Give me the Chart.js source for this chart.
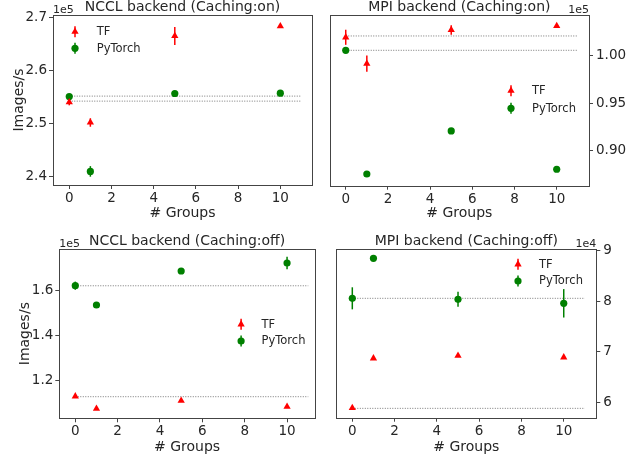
<!DOCTYPE html>
<html>
<head>
<meta charset="utf-8">
<script src="https://cdn.jsdelivr.net/npm/chart.js@4.4.1/dist/chart.umd.min.js"></script>
<style>
  body { margin: 0; background: #fff; width: 638px; height: 459px; overflow: hidden; }
  .panel { position: absolute; }
</style>
</head>
<body>
<div class="panel" style="left:0;top:0;width:319px;height:225px"><canvas id="ncclOn"></canvas></div>
<div class="panel" style="left:319px;top:0;width:319px;height:225px"><canvas id="mpiOn"></canvas></div>
<div class="panel" style="left:0;top:225px;width:319px;height:234px"><canvas id="ncclOff"></canvas></div>
<div class="panel" style="left:319px;top:225px;width:319px;height:234px"><canvas id="mpiOff"></canvas></div>
<script>
// x categories (# Groups) and x tick labels
const groups = [0, 1, 5, 10];
const xTicks = [0, 2, 4, 6, 8, 10];
const hlineSpan = [0, 11];

// NCCL backend (Caching:on)
const ncclOnTF = [253960, 250110, 266470, 268300];
const ncclOnTFErr = [600, 800, 1700, 300];
const ncclOnPT = [255020, 240870, 255590, 255660];
const ncclOnPTErr = [300, 1000, 300, 300];
const ncclOnBase = [254150, 255100];
const ncclOnYTicks = [240000, 250000, 260000, 270000];
const ncclOnYLabels = ['2.4', '2.5', '2.6', '2.7'];

// MPI backend (Caching:on)
const mpiOnTF = [101980, 99190, 102750, 103180];
const mpiOnTFErr = [800, 860, 500, 150];
const mpiOnPT = [100600, 87500, 92060, 88000];
const mpiOnPTErr = [200, 200, 150, 150];
const mpiOnBase = [102120, 100600];
const mpiOnYTicks = [90000, 95000, 100000];
const mpiOnYLabels = ['0.90', '0.95', '1.00'];

// NCCL backend (Caching:off)
const ncclOffTF = [113100, 107600, 111150, 108500];
const ncclOffTFErr = [400, 300, 300, 300];
const ncclOffPT = [162040, 153500, 168540, 172080];
const ncclOffPTErr = [1800, 500, 500, 2800];
const ncclOffBase = [112920, 162000];
const ncclOffYTicks = [120000, 140000, 160000];
const ncclOffYLabels = ['1.2', '1.4', '1.6'];

// MPI backend (Caching:off)
const mpiOffTF = [58940, 68720, 69230, 68920];
const mpiOffTFErr = [100, 150, 150, 150];
const mpiOffPT = [80530, 88400, 80330, 79550];
const mpiOffPTErr = [2170, 150, 1480, 2800];
const mpiOffBase = [58870, 80530];
const mpiOffYTicks = [60000, 70000, 80000, 90000];
const mpiOffYLabels = ['6', '7', '8', '9'];

const RED = '#ff0000';
const GREEN = '#008000';
const INK = '#262626';
const SPINE = '#444444';
const FONT = "'DejaVu Sans', sans-serif";

function pts(ys) {
    return groups.map((g, i) => ({ x: g, y: ys[i] }));
}

// matplotlib style decorations: frame, title, offset text, error bars, legend
const mplDecor = {
    id: 'mplDecor',
    afterDatasetsDraw(chart, args, opts) {
        const { ctx, scales } = chart;
        const xs = scales.x, ys = scales.y;
        ctx.save();
        // error bars
        opts.errors.forEach(e => {
            ctx.strokeStyle = e.color;
            ctx.lineWidth = 1.5;
            groups.forEach((g, i) => {
                const px = xs.getPixelForValue(g);
                ctx.beginPath();
                ctx.moveTo(px, ys.getPixelForValue(e.vals[i] - e.err[i]));
                ctx.lineTo(px, ys.getPixelForValue(e.vals[i] + e.err[i]));
                ctx.stroke();
            });
        });
        ctx.restore();
    },
    afterDraw(chart, args, opts) {
        const { ctx, chartArea: a } = chart;
        ctx.save();
        // frame
        ctx.strokeStyle = SPINE;
        ctx.lineWidth = 1;
        ctx.strokeRect(Math.round(a.left) + 0.5, Math.round(a.top) + 0.5,
            Math.round(a.right - a.left), Math.round(a.bottom - a.top));
        // title
        ctx.fillStyle = INK;
        ctx.font = '14px ' + FONT;
        ctx.textAlign = 'center';
        ctx.textBaseline = 'alphabetic';
        ctx.fillText(opts.title, (a.left + a.right) / 2, a.top - 4);
        // offset text
        ctx.font = '11px ' + FONT;
        ctx.textAlign = opts.offsetSide;
        ctx.fillText(opts.offsetText, opts.offsetSide === 'left' ? a.left : a.right, a.top - 2.5);
        // legend
        const lg = opts.legend;
        const base = lg.side === 'left' ? a.left : a.right;
        const items = [
            { label: 'TF', color: RED, style: 'triangle', y: a.top + lg.y1 },
            { label: 'PyTorch', color: GREEN, style: 'circle', y: a.top + lg.y2 }
        ];
        items.forEach(it => {
            const mx = base + lg.mx;
            ctx.strokeStyle = it.color;
            ctx.lineWidth = 1.5;
            ctx.beginPath();
            ctx.moveTo(mx, it.y - 5.5);
            ctx.lineTo(mx, it.y + 5.5);
            ctx.stroke();
            ctx.fillStyle = it.color;
            Chart.helpers.drawPoint(ctx, { pointStyle: it.style, radius: it.style === 'triangle' ? 4.2 : 3.6, rotation: 0, borderWidth: 0 }, mx, it.y);
            ctx.fillStyle = INK;
            ctx.font = '11.5px ' + FONT;
            ctx.textAlign = 'left';
            ctx.textBaseline = 'middle';
            ctx.fillText(it.label, base + lg.tx, it.y + 0.5);
        });
        ctx.restore();
    }
};

function makePanel(id, p) {
    const ctx = document.getElementById(id);
    const dotted = (y) => ({
        type: 'line',
        data: hlineSpan.map(x => ({ x: x, y: y })),
        borderColor: '#555555',
        borderWidth: 0.8,
        borderDash: [1, 1.5],
        pointRadius: 0,
        fill: false,
        order: 3
    });
    return new Chart(ctx, {
        type: 'scatter',
        data: {
            datasets: [
                dotted(p.base[0]),
                dotted(p.base[1]),
                {
                    label: 'TF',
                    data: pts(p.tf),
                    pointStyle: 'triangle',
                    pointRadius: 4.2,
                    backgroundColor: RED,
                    borderColor: RED,
                    borderWidth: 0,
                    order: 1
                },
                {
                    label: 'PyTorch',
                    data: pts(p.pt),
                    pointStyle: 'circle',
                    pointRadius: 3.6,
                    backgroundColor: GREEN,
                    borderColor: GREEN,
                    borderWidth: 0,
                    order: 1
                }
            ]
        },
        options: {
            responsive: true,
            maintainAspectRatio: false,
            animation: false,
            events: [],
            layout: { padding: p.padding },
            scales: {
                x: {
                    type: 'linear',
                    min: p.xMin,
                    max: p.xMax,
                    afterBuildTicks: s => { s.ticks = xTicks.map(v => ({ value: v })); },
                    afterFit: s => { s.height = p.xHeight; },
                    border: { display: false },
                    grid: { drawOnChartArea: false, drawTicks: true, tickLength: 4, color: SPINE },
                    ticks: {
                        color: INK,
                        font: { family: FONT, size: 13.5 },
                        padding: 1.5,
                        maxRotation: 0,
                        callback: v => String(v)
                    },
                    title: {
                        display: true,
                        text: '# Groups',
                        color: INK,
                        font: { family: FONT, size: 14 },
                        padding: { top: 0, bottom: 3.6 }
                    }
                },
                y: {
                    type: 'linear',
                    position: p.yPos,
                    min: p.yMin,
                    max: p.yMax,
                    afterBuildTicks: s => { s.ticks = p.yTicks.map(v => ({ value: v })); },
                    afterFit: s => { s.width = p.yWidth; },
                    border: { display: false },
                    grid: { drawOnChartArea: false, drawTicks: true, tickLength: 4, color: SPINE },
                    ticks: {
                        color: INK,
                        font: { family: FONT, size: 13.5 },
                        padding: p.yPos === 'left' ? 2 : 3,
                        callback: (v) => p.yLabels[p.yTicks.indexOf(v)]
                    },
                    title: {
                        display: p.yPos === 'left',
                        text: 'Images/s',
                        color: INK,
                        font: { family: FONT, size: 14 },
                        padding: { top: p.yTitlePad || 0, bottom: 0 }
                    }
                }
            },
            plugins: {
                legend: { display: false },
                tooltip: { enabled: false },
                mplDecor: {
                    title: p.title,
                    offsetText: p.offsetText,
                    offsetSide: p.yPos,
                    legend: p.legend,
                    errors: [
                        { vals: p.tf, err: p.tfErr, color: RED },
                        { vals: p.pt, err: p.ptErr, color: GREEN }
                    ]
                }
            }
        },
        plugins: [mplDecor]
    });
}

makePanel('ncclOn', {
    title: 'NCCL backend (Caching:on)', offsetText: '1e5',
    tf: ncclOnTF, tfErr: ncclOnTFErr, pt: ncclOnPT, ptErr: ncclOnPTErr, base: ncclOnBase,
    yTicks: ncclOnYTicks, yLabels: ncclOnYLabels, yPos: 'left',
    yMin: 238300, yMax: 270430, xMin: -0.77, xMax: 11.5,
    padding: { left: 0, top: 15, right: 7, bottom: 0 }, yWidth: 53, xHeight: 40, yTitlePad: 10.6,
    legend: { side: 'left', mx: 22, tx: 43.7, y1: 16.7, y2: 33.3 }
});

makePanel('mpiOn', {
    title: 'MPI backend (Caching:on)', offsetText: '1e5',
    tf: mpiOnTF, tfErr: mpiOnTFErr, pt: mpiOnPT, ptErr: mpiOnPTErr, base: mpiOnBase,
    yTicks: mpiOnYTicks, yLabels: mpiOnYLabels, yPos: 'right',
    yMin: 86260, yMax: 104340, xMin: -0.76, xMax: 11.53,
    padding: { left: 10.7, top: 15, right: 0, bottom: 0 }, yWidth: 49, xHeight: 39.3,
    legend: { side: 'right', mx: -78, tx: -57, y1: 75.7, y2: 93.3 }
});

makePanel('ncclOff', {
    title: 'NCCL backend (Caching:off)', offsetText: '1e5',
    tf: ncclOffTF, tfErr: ncclOffTFErr, pt: ncclOffPT, ptErr: ncclOffPTErr, base: ncclOffBase,
    yTicks: ncclOffYTicks, yLabels: ncclOffYLabels, yPos: 'left',
    yMin: 103360, yMax: 178270, xMin: -0.755, xMax: 11.31,
    padding: { left: 0, top: 24, right: 4, bottom: 0 }, yWidth: 59.3, xHeight: 40.7, yTitlePad: 16.6,
    legend: { side: 'right', mx: -73.7, tx: -53.3, y1: 75.3, y2: 92 }
});

makePanel('mpiOff', {
    title: 'MPI backend (Caching:off)', offsetText: '1e4',
    tf: mpiOffTF, tfErr: mpiOffTFErr, pt: mpiOffPT, ptErr: mpiOffPTErr, base: mpiOffBase,
    yTicks: mpiOffYTicks, yLabels: mpiOffYLabels, yPos: 'right',
    yMin: 57030, yMax: 90240, xMin: -0.757, xMax: 11.54,
    padding: { left: 17.3, top: 24, right: 0, bottom: 0 }, yWidth: 41.7, xHeight: 41.3,
    legend: { side: 'right', mx: -78.3, tx: -57.3, y1: 15.3, y2: 32 }
});
</script>
</body>
</html>
